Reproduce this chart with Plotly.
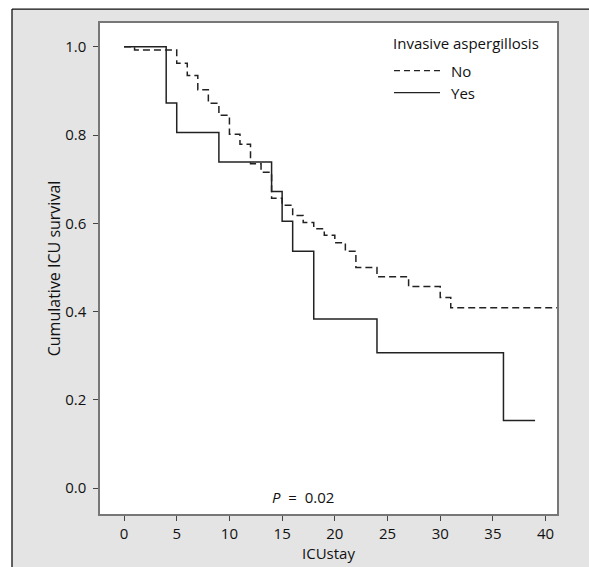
import plotly.graph_objects as go

# Data
yes_time = [0, 4, 5, 9, 14, 15, 16, 18, 24, 36, 39]
yes_surv = [1.0, 0.873, 0.806, 0.739, 0.672, 0.605, 0.537, 0.383, 0.307, 0.153, 0.153]

no_time = [0, 1, 5, 6, 7, 8, 9, 10, 11, 12, 13, 14, 15, 16, 17, 18, 19, 20, 21, 22, 24, 27, 30, 31, 42]
no_surv = [1.0, 0.993, 0.963, 0.935, 0.903, 0.872, 0.845, 0.802, 0.779, 0.735, 0.716, 0.657, 0.641,
           0.618, 0.602, 0.588, 0.573, 0.556, 0.537, 0.500, 0.479, 0.457, 0.432, 0.409, 0.409]

x_ticks = [0, 5, 10, 15, 20, 25, 30, 35, 40]
y_ticks = [0.0, 0.2, 0.4, 0.6, 0.8, 1.0]
y_tick_labels = ["0.0", "0.2", "0.4", "0.6", "0.8", "1.0"]

W, H = 589, 567
ML, MR, MT, MB = 100, 32, 23, 50
PW, PH = W - ML - MR, H - MT - MB


def px(x):
    return (x - ML) / PW


def py(y):
    return (H - MB - y) / PH


FONT = "Open Sans"
TXT = "#111111"
FS = 15

fig = go.Figure()
fig.add_trace(go.Scatter(x=no_time, y=no_surv, mode="lines", line_shape="hv",
                         line=dict(color="#222", width=1.5, dash="7px,4px"), name="No",
                         showlegend=False))
fig.add_trace(go.Scatter(x=yes_time, y=yes_surv, mode="lines", line_shape="hv",
                         line=dict(color="#222", width=1.5), name="Yes", showlegend=False))

shapes = [
    dict(type="rect", xref="paper", yref="paper", x0=px(-5), x1=px(12), y0=py(600), y1=py(-5),
         fillcolor="white", line=dict(width=0), layer="below"),
    dict(type="rect", xref="paper", yref="paper", x0=px(-5), x1=px(600), y0=py(9), y1=py(-5),
         fillcolor="white", line=dict(width=0), layer="below"),
    dict(type="line", xref="paper", yref="paper", x0=px(12), x1=px(12), y0=py(9), y1=py(600),
         line=dict(color="#111", width=1.3)),
    dict(type="line", xref="paper", yref="paper", x0=px(12), x1=px(600), y0=py(9), y1=py(9),
         line=dict(color="#111", width=1.3)),
    dict(type="line", xref="paper", yref="paper", x0=px(394), x1=px(440), y0=py(71), y1=py(71),
         line=dict(color="#222", width=1.3, dash="6px,4px")),
    dict(type="line", xref="paper", yref="paper", x0=px(394), x1=px(440), y0=py(93), y1=py(93),
         line=dict(color="#222", width=1.3)),
]

annotations = [
    dict(text="Invasive aspergillosis", xref="paper", yref="paper", x=px(391), y=py(43),
         xanchor="left", yanchor="middle", showarrow=False, font=dict(family=FONT, size=FS, color=TXT)),
    dict(text="No", xref="paper", yref="paper", x=px(449), y=py(71),
         xanchor="left", yanchor="middle", showarrow=False, font=dict(family=FONT, size=FS, color=TXT)),
    dict(text="Yes", xref="paper", yref="paper", x=px(449), y=py(93),
         xanchor="left", yanchor="middle", showarrow=False, font=dict(family=FONT, size=FS, color=TXT)),
    dict(text="<i>P</i>  =  0.02", xref="x", yref="y", x=17, y=-0.02,
         xanchor="center", yanchor="middle", showarrow=False, font=dict(family=FONT, size=FS, color=TXT)),
]

fig.update_layout(
    width=W, height=H,
    margin=dict(l=ML, r=MR, t=MT, b=MB),
    paper_bgcolor="#e4e4e4", plot_bgcolor="white",
    font=dict(family=FONT, size=FS, color=TXT),
    shapes=shapes, annotations=annotations, showlegend=False,
    xaxis=dict(range=[-2.28, 41.08], tickvals=x_ticks, ticks="outside", ticklen=5, tickcolor="#444",
               showgrid=False, zeroline=False, showline=True, linecolor="#777", linewidth=1.5,
               mirror=True, title=dict(text="ICUstay", standoff=2, font=dict(size=FS)),
               tickfont=dict(size=FS)),
    yaxis=dict(range=[-0.0586, 1.054], tickvals=y_ticks, ticktext=y_tick_labels, ticks="outside",
               ticklen=5, tickcolor="#444", showgrid=False, zeroline=False, showline=True,
               linecolor="#777", linewidth=1.5, mirror=True, ticklabelstandoff=4,
               title=dict(text="Cumulative ICU survival", standoff=1, font=dict(size=16)),
               tickfont=dict(size=FS)),
)

fig.write_html("out.html")
